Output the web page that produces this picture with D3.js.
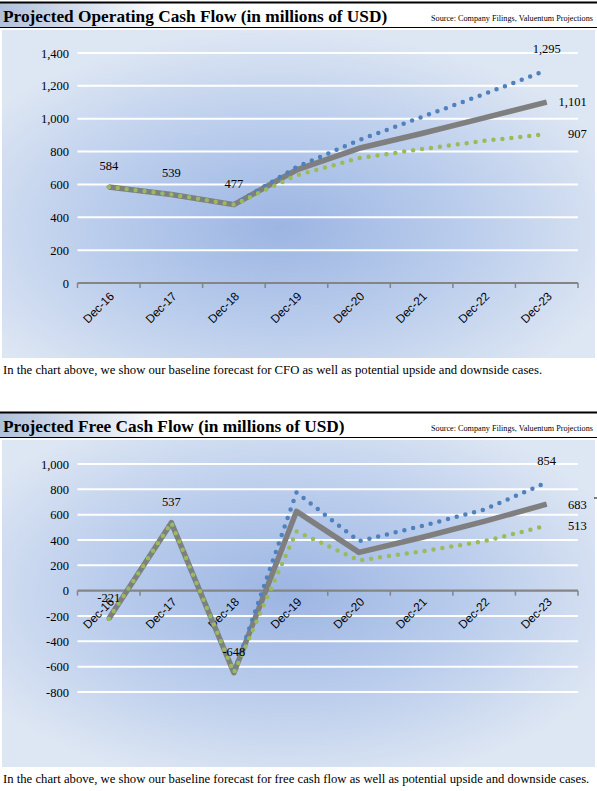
<!DOCTYPE html>
<html>
<head>
<meta charset="utf-8">
<script src="https://cdn.jsdelivr.net/npm/d3@7"></script>
<style>
  html, body { margin: 0; padding: 0; background: #ffffff; }
  svg { display: block; }
</style>
</head>
<body>
<svg id="chart" width="597" height="791"></svg>
<script>
// ---------- DATA ----------
const categories = ["Dec-16", "Dec-17", "Dec-18", "Dec-19", "Dec-20", "Dec-21", "Dec-22", "Dec-23"];

const cfoBase     = [584, 539, 477, 688, 820, 910, 1005, 1101];
const cfoUpside   = [584, 539, 477, 705, 870, 1010, 1150, 1295];
const cfoDownside = [584, 539, 477, 655, 760, 815, 865, 907];
const cfoTicks    = [0, 200, 400, 600, 800, 1000, 1200, 1400];

const fcfBase     = [-221, 537, -648, 626, 302, 420, 547, 683];
const fcfUpside   = [-221, 537, -648, 775, 390, 510, 640, 854];
const fcfDownside = [-221, 537, -648, 468, 239, 310, 390, 513];
const fcfTicks    = [-800, -600, -400, -200, 0, 200, 400, 600, 800, 1000];

const titles   = ["Projected Operating Cash Flow (in millions of USD)", "Projected Free Cash Flow (in millions of USD)"];
const source   = "Source: Company Filings, Valuentum Projections";
const captions = [
  "In the chart above, we show our baseline forecast for CFO as well as potential upside and downside cases.",
  "In the chart above, we show our baseline forecast for free cash flow as well as potential upside and downside cases."
];

// ---------- DRAW ----------
const svg = d3.select("#chart");
const W = 597;
const serif = "'Liberation Serif', 'Times New Roman', serif";
const sans = "'Liberation Sans', Arial, sans-serif";
const locale = d3.formatLocale({ decimal: ".", thousands: ",", grouping: [3], currency: ["$", ""], minus: "-" });
const fmt = locale.format(",");

const defs = svg.append("defs");
const hg = defs.append("linearGradient").attr("id", "hdrGrad").attr("x1", "0").attr("x2", "1").attr("y1", "0").attr("y2", "0");
hg.append("stop").attr("offset", "0").attr("stop-color", "#b0c1db");
hg.append("stop").attr("offset", "0.28").attr("stop-color", "#ffffff");
hg.append("stop").attr("offset", "1").attr("stop-color", "#ffffff");

function makeRadial(id, cx, cy) {
  const rg = defs.append("radialGradient").attr("id", id).attr("cx", cx).attr("cy", cy).attr("r", "0.6");
  rg.append("stop").attr("offset", "0").attr("stop-color", "#9cb5e2");
  rg.append("stop").attr("offset", "0.5").attr("stop-color", "#b9ccec");
  rg.append("stop").attr("offset", "1").attr("stop-color", "#dde6f3");
}
makeRadial("plotGrad1", "0.47", "0.6");
makeRadial("plotGrad2", "0.48", "0.47");

function section(cfg) {
  const g = svg.append("g").attr("transform", `translate(0,${cfg.top})`);

  // header
  g.append("rect").attr("x", 0).attr("y", 3).attr("width", W).attr("height", 24).attr("fill", "url(#hdrGrad)");
  g.append("line").attr("x1", 0).attr("x2", W).attr("y1", 2.5).attr("y2", 2.5).attr("stroke", "#000").attr("stroke-width", 2);
  g.append("line").attr("x1", 0).attr("x2", W).attr("y1", 27.5).attr("y2", 27.5).attr("stroke", "#000").attr("stroke-width", 1);
  g.append("text").attr("x", 3).attr("y", 21.5).attr("font-family", serif).attr("font-weight", "bold")
    .attr("font-size", 17.3).attr("fill", "#000").text(cfg.title);
  g.append("text").attr("x", 593).attr("y", 21).attr("text-anchor", "end").attr("font-family", serif)
    .attr("font-size", 8.2).attr("fill", "#000").text(source);

  // panel with radial gradient
  g.append("rect").attr("x", 2).attr("y", 30).attr("width", 593).attr("height", cfg.panelH).attr("fill", "#dce6f2");
  g.append("rect").attr("x", 2).attr("y", 30).attr("width", 593).attr("height", cfg.panelH).attr("fill", `url(#${cfg.grad})`);

  const x = d3.scaleBand().domain(categories).range([77.5, 578]).padding(0);
  const y = d3.scaleLinear().domain(cfg.domain).range([cfg.plotBottom, cfg.plotTop]);
  const cx = d => x(d) + x.bandwidth() / 2;

  // gridlines
  g.append("g").selectAll("line").data(cfg.ticks.filter(t => t !== 0)).join("line")
    .attr("x1", 77.5).attr("x2", 578).attr("y1", d => y(d)).attr("y2", d => y(d))
    .attr("stroke", "#ffffff").attr("stroke-width", 2);

  // y axis labels
  const yAxis = d3.axisLeft(y).tickValues(cfg.ticks).tickSize(0).tickPadding(0).tickFormat(fmt);
  const ya = g.append("g").attr("transform", "translate(69,0)").call(yAxis);
  ya.select(".domain").remove();
  ya.selectAll("text").attr("font-family", serif).attr("font-size", 12.5).attr("fill", "#000");

  // x axis at zero
  const y0 = y(0);
  const xAxis = d3.axisBottom(x).tickSize(0).tickFormat("");
  const xa = g.append("g").attr("transform", `translate(0,${y0})`).call(xAxis);
  xa.select(".domain").remove();
  xa.append("line").attr("x1", 77.5).attr("x2", 578).attr("y1", 0).attr("y2", 0)
    .attr("stroke", "#858585").attr("stroke-width", 2.2);
  const bounds = categories.map(c => x(c)).concat([578]);
  xa.selectAll(".tk").data(bounds).join("line").attr("class", "tk")
    .attr("x1", d => d).attr("x2", d => d).attr("y1", 0).attr("y2", 5)
    .attr("stroke", "#858585").attr("stroke-width", 1.5);
  g.append("g").selectAll("text").data(categories).join("text")
    .attr("transform", d => `translate(${cx(d) + 6},${y0 + cfg.labelDy}) rotate(-45)`)
    .attr("text-anchor", "end").attr("font-family", sans).attr("font-size", 11.8).attr("fill", "#000")
    .text(d => d);

  // lines
  const line = vals => d3.line().x((d, i) => cx(categories[i])).y(d => y(d))(vals);
  g.append("path").attr("d", line(cfg.base)).attr("fill", "none").attr("stroke", "#7f7f7f")
    .attr("stroke-width", 5.5).attr("stroke-linejoin", "round");
  g.append("path").attr("d", line(cfg.up)).attr("fill", "none").attr("stroke", "#4f81bd")
    .attr("stroke-width", 4.5).attr("stroke-linecap", "round").attr("stroke-dasharray", "0 9");
  g.append("path").attr("d", line(cfg.down)).attr("fill", "none").attr("stroke", "#9bbb59")
    .attr("stroke-width", 4.5).attr("stroke-linecap", "round").attr("stroke-dasharray", "0 9");

  // data labels
  const lab = g.append("g").attr("font-family", serif).attr("font-size", 12.5).attr("fill", "#000");
  [0, 1, 2].forEach(i => {
    lab.append("text").attr("x", cx(categories[i])).attr("y", y(cfg.base[i]) - 17)
      .attr("text-anchor", "middle").text(fmt(cfg.base[i]));
  });
  const li = categories.length - 1;
  const lx = cx(categories[li]);
  lab.append("text").attr("x", lx).attr("y", y(cfg.up[li]) - 17).attr("text-anchor", "middle").text(fmt(cfg.up[li]));
  lab.append("text").attr("x", lx + 40).attr("y", y(cfg.base[li])).attr("dy", "0.35em").attr("text-anchor", "end").text(fmt(cfg.base[li]));
  lab.append("text").attr("x", lx + 40).attr("y", y(cfg.down[li])).attr("dy", "0.35em").attr("text-anchor", "end").text(fmt(cfg.down[li]));

  // caption
  g.append("text").attr("x", 3).attr("y", cfg.panelH + 46).attr("font-family", serif).attr("font-size", 12.7)
    .attr("fill", "#000").text(cfg.caption);
  return g;
}

section({ top: 0, title: titles[0], caption: captions[0], panelH: 328, grad: "plotGrad1",
  domain: [0, 1400], plotTop: 53, plotBottom: 283, ticks: cfoTicks, labelDy: 14,
  base: cfoBase, up: cfoUpside, down: cfoDownside });

const g2 = section({ top: 410, title: titles[1], caption: captions[1], panelH: 327, grad: "plotGrad2",
  domain: [-800, 1000], plotTop: 54, plotBottom: 282, ticks: fcfTicks, labelDy: 12,
  base: fcfBase, up: fcfUpside, down: fcfDownside });
g2.append("line").attr("x1", 594).attr("x2", 597).attr("y1", 88).attr("y2", 88).attr("stroke", "#000").attr("stroke-width", 1);
</script>
</body>
</html>
